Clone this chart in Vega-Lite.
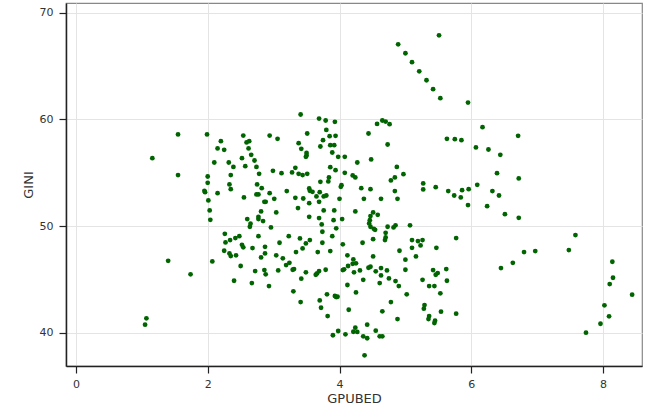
{
  "$schema": "https://vega.github.io/schema/vega-lite/v6.json",
  "width": 576,
  "height": 363,
  "autosize": "none",
  "padding": {"left": 66, "top": 3, "right": 18, "bottom": 40},
  "background": "white",
  "config": {
    "font": "DejaVu Sans",
    "view": {"stroke": "#888", "strokeWidth": 1.2},
    "axis": {
      "grid": true,
      "gridColor": "#e4e4e4",
      "gridWidth": 1,
      "domainColor": "#222",
      "domainWidth": 1.5,
      "tickColor": "#222",
      "tickWidth": 1.2,
      "tickSize": 7,
      "labelFont": "DejaVu Sans",
      "labelFontSize": 11,
      "labelColor": "#333",
      "titleFont": "DejaVu Sans",
      "titleFontSize": 13,
      "titleFontWeight": "normal",
      "titleColor": "#333"
    }
  },
  "data": {
    "values": [
      {"GPUBED": 4.89, "GINI": 67.03}, {"GPUBED": 5.51, "GINI": 67.87}, {"GPUBED": 5.0, "GINI": 66.19}, {"GPUBED": 5.1, "GINI": 65.35},
      {"GPUBED": 5.21, "GINI": 64.5}, {"GPUBED": 5.32, "GINI": 63.66}, {"GPUBED": 5.42, "GINI": 62.82}, {"GPUBED": 5.53, "GINI": 61.98},
      {"GPUBED": 5.95, "GINI": 61.57}, {"GPUBED": 4.57, "GINI": 59.57}, {"GPUBED": 4.65, "GINI": 59.89}, {"GPUBED": 4.7, "GINI": 59.79},
      {"GPUBED": 4.76, "GINI": 59.54}, {"GPUBED": 6.17, "GINI": 59.26}, {"GPUBED": 3.41, "GINI": 60.45}, {"GPUBED": 3.69, "GINI": 60.07},
      {"GPUBED": 3.79, "GINI": 59.89}, {"GPUBED": 3.93, "GINI": 59.76}, {"GPUBED": 3.8, "GINI": 59.0},
      {"GPUBED": 1.55, "GINI": 58.58}, {"GPUBED": 1.99, "GINI": 58.58}, {"GPUBED": 1.16, "GINI": 56.36}, {"GPUBED": 1.55, "GINI": 54.77},
      {"GPUBED": 2.0, "GINI": 54.64}, {"GPUBED": 2.0, "GINI": 54.05}, {"GPUBED": 1.95, "GINI": 53.3}, {"GPUBED": 1.96, "GINI": 53.17},
      {"GPUBED": 2.01, "GINI": 52.4}, {"GPUBED": 2.03, "GINI": 51.46}, {"GPUBED": 2.04, "GINI": 50.58},
      {"GPUBED": 2.54, "GINI": 58.48}, {"GPUBED": 2.94, "GINI": 58.48}, {"GPUBED": 3.06, "GINI": 58.17}, {"GPUBED": 2.2, "GINI": 57.95},
      {"GPUBED": 2.63, "GINI": 57.95}, {"GPUBED": 2.59, "GINI": 57.83}, {"GPUBED": 2.15, "GINI": 57.27}, {"GPUBED": 2.25, "GINI": 57.14},
      {"GPUBED": 2.62, "GINI": 57.27}, {"GPUBED": 2.66, "GINI": 56.67}, {"GPUBED": 2.52, "GINI": 56.36}, {"GPUBED": 2.71, "GINI": 56.14},
      {"GPUBED": 2.1, "GINI": 55.95}, {"GPUBED": 2.32, "GINI": 55.95}, {"GPUBED": 2.39, "GINI": 55.54}, {"GPUBED": 2.57, "GINI": 55.61},
      {"GPUBED": 2.74, "GINI": 55.54}, {"GPUBED": 2.35, "GINI": 54.77}, {"GPUBED": 2.78, "GINI": 54.89}, {"GPUBED": 2.33, "GINI": 53.9},
      {"GPUBED": 2.35, "GINI": 53.45}, {"GPUBED": 2.15, "GINI": 53.08}, {"GPUBED": 2.75, "GINI": 53.9}, {"GPUBED": 2.82, "GINI": 53.55},
      {"GPUBED": 2.74, "GINI": 52.96}, {"GPUBED": 2.77, "GINI": 52.96}, {"GPUBED": 2.55, "GINI": 52.68}, {"GPUBED": 2.86, "GINI": 52.27},
      {"GPUBED": 2.88, "GINI": 52.27}, {"GPUBED": 2.94, "GINI": 53.08}, {"GPUBED": 3.01, "GINI": 52.55}, {"GPUBED": 2.81, "GINI": 51.37},
      {"GPUBED": 3.04, "GINI": 51.27}, {"GPUBED": 2.6, "GINI": 50.65}, {"GPUBED": 2.77, "GINI": 50.86}, {"GPUBED": 2.77, "GINI": 50.65},
      {"GPUBED": 2.84, "GINI": 50.46}, {"GPUBED": 2.65, "GINI": 50.21}, {"GPUBED": 2.64, "GINI": 49.93}, {"GPUBED": 2.96, "GINI": 49.87},
      {"GPUBED": 2.99, "GINI": 55.17}, {"GPUBED": 3.12, "GINI": 54.95}, {"GPUBED": 3.2, "GINI": 53.27}, {"GPUBED": 3.28, "GINI": 55.02},
      {"GPUBED": 3.33, "GINI": 55.45}, {"GPUBED": 3.38, "GINI": 54.89}, {"GPUBED": 3.44, "GINI": 54.77}, {"GPUBED": 3.51, "GINI": 54.89},
      {"GPUBED": 3.38, "GINI": 57.76}, {"GPUBED": 3.42, "GINI": 57.23}, {"GPUBED": 3.51, "GINI": 58.67}, {"GPUBED": 3.5, "GINI": 56.85},
      {"GPUBED": 3.5, "GINI": 56.61}, {"GPUBED": 3.49, "GINI": 56.48}, {"GPUBED": 3.71, "GINI": 57.45}, {"GPUBED": 3.75, "GINI": 58.04},
      {"GPUBED": 3.85, "GINI": 58.42}, {"GPUBED": 3.94, "GINI": 58.45}, {"GPUBED": 3.86, "GINI": 57.58}, {"GPUBED": 3.92, "GINI": 57.58},
      {"GPUBED": 3.89, "GINI": 56.89}, {"GPUBED": 3.98, "GINI": 56.48}, {"GPUBED": 4.08, "GINI": 56.48}, {"GPUBED": 3.86, "GINI": 55.51},
      {"GPUBED": 3.94, "GINI": 55.23}, {"GPUBED": 4.08, "GINI": 54.98}, {"GPUBED": 3.83, "GINI": 54.18}, {"GPUBED": 3.84, "GINI": 54.55},
      {"GPUBED": 3.71, "GINI": 54.14}, {"GPUBED": 4.03, "GINI": 53.83}, {"GPUBED": 4.02, "GINI": 53.67}, {"GPUBED": 3.54, "GINI": 53.52},
      {"GPUBED": 3.55, "GINI": 53.3}, {"GPUBED": 3.59, "GINI": 53.2}, {"GPUBED": 3.7, "GINI": 53.17}, {"GPUBED": 3.65, "GINI": 52.77},
      {"GPUBED": 3.76, "GINI": 52.77}, {"GPUBED": 3.8, "GINI": 52.86}, {"GPUBED": 3.33, "GINI": 52.64}, {"GPUBED": 3.45, "GINI": 52.58},
      {"GPUBED": 3.54, "GINI": 52.14}, {"GPUBED": 3.69, "GINI": 52.27}, {"GPUBED": 4.0, "GINI": 52.55}, {"GPUBED": 3.37, "GINI": 51.68},
      {"GPUBED": 3.76, "GINI": 51.46}, {"GPUBED": 3.92, "GINI": 51.46}, {"GPUBED": 3.54, "GINI": 50.86}, {"GPUBED": 3.69, "GINI": 50.74},
      {"GPUBED": 3.91, "GINI": 50.55}, {"GPUBED": 4.04, "GINI": 50.65}, {"GPUBED": 3.73, "GINI": 50.15}, {"GPUBED": 3.95, "GINI": 49.78},
      {"GPUBED": 3.74, "GINI": 49.46},
      {"GPUBED": 2.26, "GINI": 49.27}, {"GPUBED": 2.34, "GINI": 48.68}, {"GPUBED": 2.42, "GINI": 48.87}, {"GPUBED": 2.48, "GINI": 49.05},
      {"GPUBED": 2.52, "GINI": 48.24}, {"GPUBED": 2.27, "GINI": 48.46}, {"GPUBED": 2.54, "GINI": 48.0}, {"GPUBED": 2.68, "GINI": 47.93},
      {"GPUBED": 2.77, "GINI": 49.05}, {"GPUBED": 2.87, "GINI": 48.05}, {"GPUBED": 3.09, "GINI": 48.43}, {"GPUBED": 3.23, "GINI": 49.05},
      {"GPUBED": 3.4, "GINI": 48.84}, {"GPUBED": 3.44, "GINI": 47.9}, {"GPUBED": 3.49, "GINI": 48.37}, {"GPUBED": 3.55, "GINI": 48.68},
      {"GPUBED": 3.74, "GINI": 48.43}, {"GPUBED": 3.89, "GINI": 49.05}, {"GPUBED": 4.05, "GINI": 48.28},
      {"GPUBED": 2.07, "GINI": 46.68}, {"GPUBED": 2.25, "GINI": 47.68}, {"GPUBED": 2.33, "GINI": 47.43}, {"GPUBED": 2.35, "GINI": 47.18},
      {"GPUBED": 2.43, "GINI": 47.25}, {"GPUBED": 2.5, "GINI": 46.25}, {"GPUBED": 2.4, "GINI": 44.87}, {"GPUBED": 2.72, "GINI": 45.78},
      {"GPUBED": 2.67, "GINI": 44.65}, {"GPUBED": 2.87, "GINI": 47.43}, {"GPUBED": 2.81, "GINI": 47.06}, {"GPUBED": 2.86, "GINI": 45.87},
      {"GPUBED": 2.88, "GINI": 45.47}, {"GPUBED": 2.93, "GINI": 44.37}, {"GPUBED": 3.04, "GINI": 47.25}, {"GPUBED": 3.14, "GINI": 46.97},
      {"GPUBED": 3.07, "GINI": 45.84}, {"GPUBED": 3.19, "GINI": 46.34}, {"GPUBED": 3.24, "GINI": 46.55}, {"GPUBED": 3.29, "GINI": 45.9},
      {"GPUBED": 3.31, "GINI": 45.96}, {"GPUBED": 3.3, "GINI": 43.88}, {"GPUBED": 3.34, "GINI": 47.56}, {"GPUBED": 3.49, "GINI": 45.66},
      {"GPUBED": 3.42, "GINI": 45.06}, {"GPUBED": 3.41, "GINI": 42.87}, {"GPUBED": 3.67, "GINI": 47.56}, {"GPUBED": 3.86, "GINI": 47.65},
      {"GPUBED": 3.69, "GINI": 45.78}, {"GPUBED": 3.66, "GINI": 45.56}, {"GPUBED": 3.64, "GINI": 45.43}, {"GPUBED": 3.79, "GINI": 45.9},
      {"GPUBED": 3.81, "GINI": 43.6}, {"GPUBED": 3.7, "GINI": 43.03}, {"GPUBED": 3.72, "GINI": 42.34}, {"GPUBED": 3.82, "GINI": 41.56},
      {"GPUBED": 3.93, "GINI": 43.44}, {"GPUBED": 3.95, "GINI": 43.34}, {"GPUBED": 3.97, "GINI": 43.37}, {"GPUBED": 3.9, "GINI": 39.76},
      {"GPUBED": 3.98, "GINI": 40.16}, {"GPUBED": 4.09, "GINI": 39.85}, {"GPUBED": 4.12, "GINI": 47.25}, {"GPUBED": 4.05, "GINI": 45.87},
      {"GPUBED": 4.07, "GINI": 45.94}, {"GPUBED": 4.12, "GINI": 44.47}, {"GPUBED": 4.14, "GINI": 42.15},
      {"GPUBED": 4.44, "GINI": 58.67}, {"GPUBED": 5.63, "GINI": 58.17}, {"GPUBED": 5.75, "GINI": 58.14}, {"GPUBED": 5.85, "GINI": 58.04},
      {"GPUBED": 6.07, "GINI": 57.36}, {"GPUBED": 6.26, "GINI": 57.17}, {"GPUBED": 4.73, "GINI": 57.64}, {"GPUBED": 4.48, "GINI": 56.24},
      {"GPUBED": 4.27, "GINI": 55.95}, {"GPUBED": 4.87, "GINI": 55.54}, {"GPUBED": 4.2, "GINI": 54.74}, {"GPUBED": 4.24, "GINI": 54.55},
      {"GPUBED": 4.97, "GINI": 54.86}, {"GPUBED": 4.84, "GINI": 54.55}, {"GPUBED": 4.78, "GINI": 54.27}, {"GPUBED": 5.27, "GINI": 53.99},
      {"GPUBED": 5.27, "GINI": 53.43}, {"GPUBED": 5.46, "GINI": 53.64}, {"GPUBED": 6.09, "GINI": 53.86}, {"GPUBED": 4.33, "GINI": 53.55},
      {"GPUBED": 4.47, "GINI": 53.45}, {"GPUBED": 4.84, "GINI": 53.27}, {"GPUBED": 5.65, "GINI": 53.27}, {"GPUBED": 5.74, "GINI": 52.86},
      {"GPUBED": 5.84, "GINI": 52.68}, {"GPUBED": 5.86, "GINI": 53.36}, {"GPUBED": 5.96, "GINI": 53.45}, {"GPUBED": 4.37, "GINI": 52.55},
      {"GPUBED": 4.63, "GINI": 52.55}, {"GPUBED": 4.88, "GINI": 52.55}, {"GPUBED": 5.95, "GINI": 51.96}, {"GPUBED": 6.24, "GINI": 51.86},
      {"GPUBED": 4.24, "GINI": 51.37}, {"GPUBED": 4.51, "GINI": 51.27}, {"GPUBED": 4.47, "GINI": 50.93}, {"GPUBED": 4.58, "GINI": 51.05},
      {"GPUBED": 4.46, "GINI": 50.55}, {"GPUBED": 4.45, "GINI": 50.24}, {"GPUBED": 4.47, "GINI": 49.93}, {"GPUBED": 4.52, "GINI": 49.74},
      {"GPUBED": 4.54, "GINI": 49.64}, {"GPUBED": 4.73, "GINI": 49.93}, {"GPUBED": 4.82, "GINI": 49.87}, {"GPUBED": 4.85, "GINI": 50.06},
      {"GPUBED": 5.07, "GINI": 50.06}, {"GPUBED": 4.7, "GINI": 49.36}, {"GPUBED": 4.7, "GINI": 48.93}, {"GPUBED": 4.69, "GINI": 48.68},
      {"GPUBED": 4.51, "GINI": 48.77}, {"GPUBED": 4.35, "GINI": 48.43}, {"GPUBED": 5.1, "GINI": 48.68}, {"GPUBED": 5.1, "GINI": 47.96},
      {"GPUBED": 5.19, "GINI": 48.59}, {"GPUBED": 5.23, "GINI": 48.18}, {"GPUBED": 5.26, "GINI": 48.68}, {"GPUBED": 5.47, "GINI": 47.96},
      {"GPUBED": 5.77, "GINI": 48.87}, {"GPUBED": 4.91, "GINI": 47.68},
      {"GPUBED": 6.71, "GINI": 58.45}, {"GPUBED": 6.44, "GINI": 56.67}, {"GPUBED": 6.39, "GINI": 54.95}, {"GPUBED": 6.72, "GINI": 54.46},
      {"GPUBED": 6.32, "GINI": 53.27}, {"GPUBED": 6.42, "GINI": 52.86}, {"GPUBED": 6.51, "GINI": 51.11}, {"GPUBED": 6.72, "GINI": 50.77},
      {"GPUBED": 7.58, "GINI": 49.15},
      {"GPUBED": 6.45, "GINI": 46.06}, {"GPUBED": 6.63, "GINI": 46.55}, {"GPUBED": 6.8, "GINI": 47.56}, {"GPUBED": 6.97, "GINI": 47.65},
      {"GPUBED": 7.48, "GINI": 47.74}, {"GPUBED": 8.14, "GINI": 46.65}, {"GPUBED": 8.15, "GINI": 45.15}, {"GPUBED": 8.1, "GINI": 44.56},
      {"GPUBED": 8.44, "GINI": 43.56}, {"GPUBED": 8.02, "GINI": 42.57}, {"GPUBED": 8.09, "GINI": 41.54}, {"GPUBED": 7.96, "GINI": 40.84},
      {"GPUBED": 7.74, "GINI": 40.0},
      {"GPUBED": 1.4, "GINI": 46.74}, {"GPUBED": 1.74, "GINI": 45.47}, {"GPUBED": 1.07, "GINI": 41.35}, {"GPUBED": 1.05, "GINI": 40.75},
      {"GPUBED": 4.21, "GINI": 46.87}, {"GPUBED": 5.0, "GINI": 46.84}, {"GPUBED": 5.16, "GINI": 47.15}, {"GPUBED": 4.51, "GINI": 47.15},
      {"GPUBED": 4.13, "GINI": 46.25}, {"GPUBED": 4.2, "GINI": 46.46}, {"GPUBED": 4.25, "GINI": 46.5}, {"GPUBED": 4.22, "GINI": 45.66},
      {"GPUBED": 4.31, "GINI": 45.84}, {"GPUBED": 4.44, "GINI": 46.09}, {"GPUBED": 4.47, "GINI": 46.18}, {"GPUBED": 4.55, "GINI": 45.75},
      {"GPUBED": 4.63, "GINI": 46.06}, {"GPUBED": 4.63, "GINI": 45.37}, {"GPUBED": 4.72, "GINI": 45.84}, {"GPUBED": 4.61, "GINI": 44.65},
      {"GPUBED": 4.75, "GINI": 45.09}, {"GPUBED": 4.85, "GINI": 44.84}, {"GPUBED": 4.9, "GINI": 44.37}, {"GPUBED": 5.0, "GINI": 45.9},
      {"GPUBED": 4.36, "GINI": 44.96}, {"GPUBED": 4.25, "GINI": 43.78}, {"GPUBED": 4.78, "GINI": 42.87}, {"GPUBED": 5.02, "GINI": 43.6},
      {"GPUBED": 4.65, "GINI": 42.0}, {"GPUBED": 4.88, "GINI": 41.28}, {"GPUBED": 5.42, "GINI": 45.87}, {"GPUBED": 5.46, "GINI": 45.43},
      {"GPUBED": 5.49, "GINI": 45.59}, {"GPUBED": 5.62, "GINI": 45.96}, {"GPUBED": 5.26, "GINI": 44.96}, {"GPUBED": 5.36, "GINI": 44.37},
      {"GPUBED": 5.44, "GINI": 44.37}, {"GPUBED": 5.63, "GINI": 44.87}, {"GPUBED": 5.53, "GINI": 43.69}, {"GPUBED": 5.29, "GINI": 42.59},
      {"GPUBED": 5.28, "GINI": 42.25}, {"GPUBED": 5.54, "GINI": 41.97}, {"GPUBED": 5.77, "GINI": 41.78}, {"GPUBED": 5.36, "GINI": 41.56},
      {"GPUBED": 5.35, "GINI": 41.28}, {"GPUBED": 5.45, "GINI": 41.12}, {"GPUBED": 5.44, "GINI": 40.91}, {"GPUBED": 4.24, "GINI": 40.47},
      {"GPUBED": 4.21, "GINI": 40.09}, {"GPUBED": 4.27, "GINI": 40.07}, {"GPUBED": 4.42, "GINI": 40.75}, {"GPUBED": 4.36, "GINI": 39.66},
      {"GPUBED": 4.42, "GINI": 39.48}, {"GPUBED": 4.55, "GINI": 40.19}, {"GPUBED": 4.61, "GINI": 39.66}, {"GPUBED": 4.65, "GINI": 39.66},
      {"GPUBED": 4.38, "GINI": 37.88}
    ]
  },
  "mark": {"type": "point", "filled": true, "color": "#006400", "opacity": 1, "size": 23},
  "encoding": {
    "x": {
      "field": "GPUBED", "type": "quantitative",
      "scale": {"domain": [-0.15, 8.59], "nice": false, "zero": false},
      "axis": {"values": [0, 2, 4, 6, 8], "title": "GPUBED", "labelPadding": 5, "titlePadding": 3}
    },
    "y": {
      "field": "GINI", "type": "quantitative",
      "scale": {"domain": [36.88, 70.9], "nice": false, "zero": false},
      "axis": {"values": [40, 50, 60, 70], "title": "GINI", "labelPadding": 6, "titlePadding": 4}
    }
  }
}
